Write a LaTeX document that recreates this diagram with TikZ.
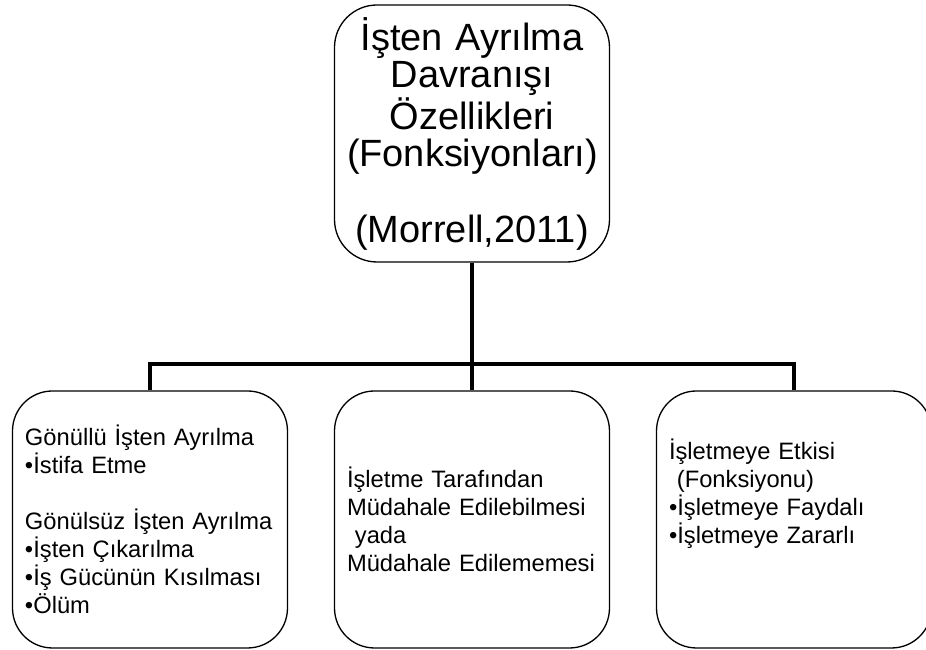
\documentclass[tikz,border=0pt]{standalone}
\usepackage{fontspec}
\setmainfont{Liberation Sans}
\usetikzlibrary{positioning}
\tikzset{
    box/.style={
        draw=black,line width=0.75pt,rounded corners=0.8cm,
        minimum height=5.14cm,text width=5.0cm,inner xsep=0.25cm,
        align=left,font=\fontsize{13.5}{15.9}\selectfont
    },
    link/.style={
        line width=2pt,draw=black
    }
}

\begin{document}
\begin{tikzpicture}

\useasboundingbox (0,0) rectangle (18.52,13);

\node[
box,rounded corners=0.85cm,align=center,
font=\fontsize{21.6}{21.4}\selectfont
](top) at (9.44,10.33)
{İşten Ayrılma\\Davranışı\\Özellikleri\\(Fonksiyonları)\\~\\(Morrell,2011)};

\coordinate (bus) at (9.44,5.72);

\node[box]
(left) at (3.0,2.61){Gönüllü İşten Ayrılma\\•İstifa Etme\\~\\Gönülsüz İşten Ayrılma\\•İşten Çıkarılma\\•İş Gücünün Kısılması\\•Ölüm};

\node[box]
(middle) at (9.44,2.61){İşletme Tarafından\\Müdahale Edilebilmesi\\~yada\\Müdahale Edilememesi};

\node[box]
(right) at (15.88,2.61){İşletmeye Etkisi\\~(Fonksiyonu)\\•İşletmeye Faydalı\\•İşletmeye Zararlı\\~\\~};

\foreach \c in {left,middle,right}
    \draw[link](top.south)--(top.south |- bus)-|(\c.north);

\end{tikzpicture}
\end{document}
